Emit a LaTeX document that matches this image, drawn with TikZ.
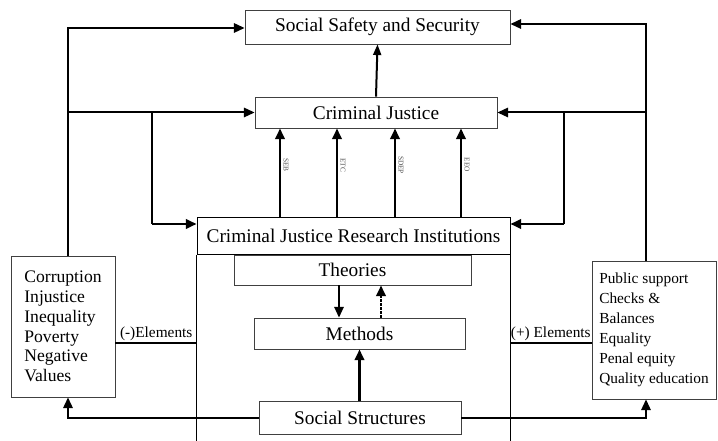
\documentclass[tikz,border=0pt]{standalone}
\usepackage{fontspec}
\setmainfont{Liberation Serif}
\usetikzlibrary{arrows.meta}

\tikzset{
  box/.style={draw=black!75,line width=0.6pt,rectangle,inner sep=0pt,font=\fontsize{14.5}{17}\selectfont},
  conn/.style={line width=1.5pt},
  arr/.style={conn,-{Triangle[length=8pt,width=7pt]}},
  bigarr/.style={line width=2.2pt,-{Triangle[length=8pt,width=7pt]}},
  tag/.style={font=\fontsize{11.5}{13}\selectfont,inner sep=1pt},
  tiny/.style={font=\fontsize{5.5}{6}\selectfont,text=black!70,rotate=-90,inner sep=0.5pt}
}

\begin{document}
\begin{tikzpicture}[x=0.75pt,y=-0.75pt]
  \useasboundingbox (0,0) rectangle (718,441);
  % boxes
  \node (sss) at (377.5,27) [box,minimum width=265*0.75pt,minimum height=34*0.75pt]{Social Safety and Security};
  \node (cj) at (376,112.5) [box,minimum width=242*0.75pt,minimum height=31*0.75pt]{Criminal Justice};
  \node (cjri) at (353.5,236) [box,draw=black,minimum width=313*0.75pt,minimum height=37*0.75pt]{Criminal Justice Research Institutions};
  \node (th) at (352.5,270) [box,minimum width=237*0.75pt,minimum height=30*0.75pt]{Theories};
  \node (me) at (359.5,333.5) [box,minimum width=211*0.75pt,minimum height=31*0.75pt]{Methods};
  \node (ss) at (360,418) [box,minimum width=202*0.75pt,minimum height=33*0.75pt]{Social Structures};
  \node (neg) at (63,326.5) [box,minimum width=104*0.75pt,minimum height=141*0.75pt,align=left,
    font=\fontsize{13.2}{14.8}\selectfont]{Corruption\\Injustice\\Inequality\\Poverty\\Negative\\Values};
  \node (pos) at (654,330) [box,minimum width=124*0.75pt,minimum height=138*0.75pt,align=left,
    font=\fontsize{11.5}{15}\selectfont]{Public support\\Checks \&\\Balances\\Equality\\Penal equity\\Quality education};

  % helper points
  \coordinate (ltop) at (68,28);
  \coordinate (rtop) at (646,24);
  \coordinate (lbr) at (152,224);
  \coordinate (rbr) at (564,224);
  \coordinate (negend) at (197,343);
  \coordinate (posend) at (510,343);
  \coordinate (low) at (0,441);

  % frame below the institutions
  \draw[line width=0.8pt] (cjri.south west) -- (cjri.south west |- low);
  \draw[line width=0.8pt] (cjri.south east) -- (cjri.south east |- low);

  \draw[conn,-{Triangle[length=8pt,width=6pt]}] (cj.north) -- (sss.south);
  \foreach \x/\t in {280/SEB,337/ETC,395/SDEP,461/EEO}
  {
    \draw[bigarr] (cjri.north -| \x,0) -- (cj.south -| \x,0);
    \node (t\x) at (\x+6,165) [tiny]{\t};
  }

  % inside the institutions
  \draw[line width=1.3pt,-{Triangle[length=8pt,width=7pt]}] (th.south -| 339,0) -- (me.north -| 339,0);
  \draw[line width=2pt,densely dotted,-{Triangle[length=8pt,width=7pt]}] (me.north -| 381,0) -- (th.south -| 381,0);
  \draw[bigarr] (ss.north -| me.south) -- (me.south);

  % left side
  \draw[arr] (neg.north -| ltop) -- (ltop) -- (ltop -| sss.west);
  \draw[arr] (ltop |- cj.west) -- (cj.west);
  \draw[conn] (lbr |- cj.west) -- (lbr);
  \draw[bigarr] (lbr) -- (lbr -| cjri.west);
  \draw[conn] (neg.east |- negend) -- node[tag,above]{(-)Elements} (negend);
  \draw[arr] (ss.west) -| (neg.south -| ltop);

  % right side
  \draw[arr] (pos.north -| rtop) -- (rtop) -- (rtop -| sss.east);
  \draw[arr] (rtop |- cj.east) -- (cj.east);
  \draw[conn] (rbr |- cj.east) -- (rbr);
  \draw[bigarr] (rbr) -- (rbr -| cjri.east);
  \draw[conn] (posend) -- node[tag,above]{(+) Elements} (pos.west |- posend);
  \draw[arr] (ss.east) -| (pos.south -| rtop);
\end{tikzpicture}
\end{document}
